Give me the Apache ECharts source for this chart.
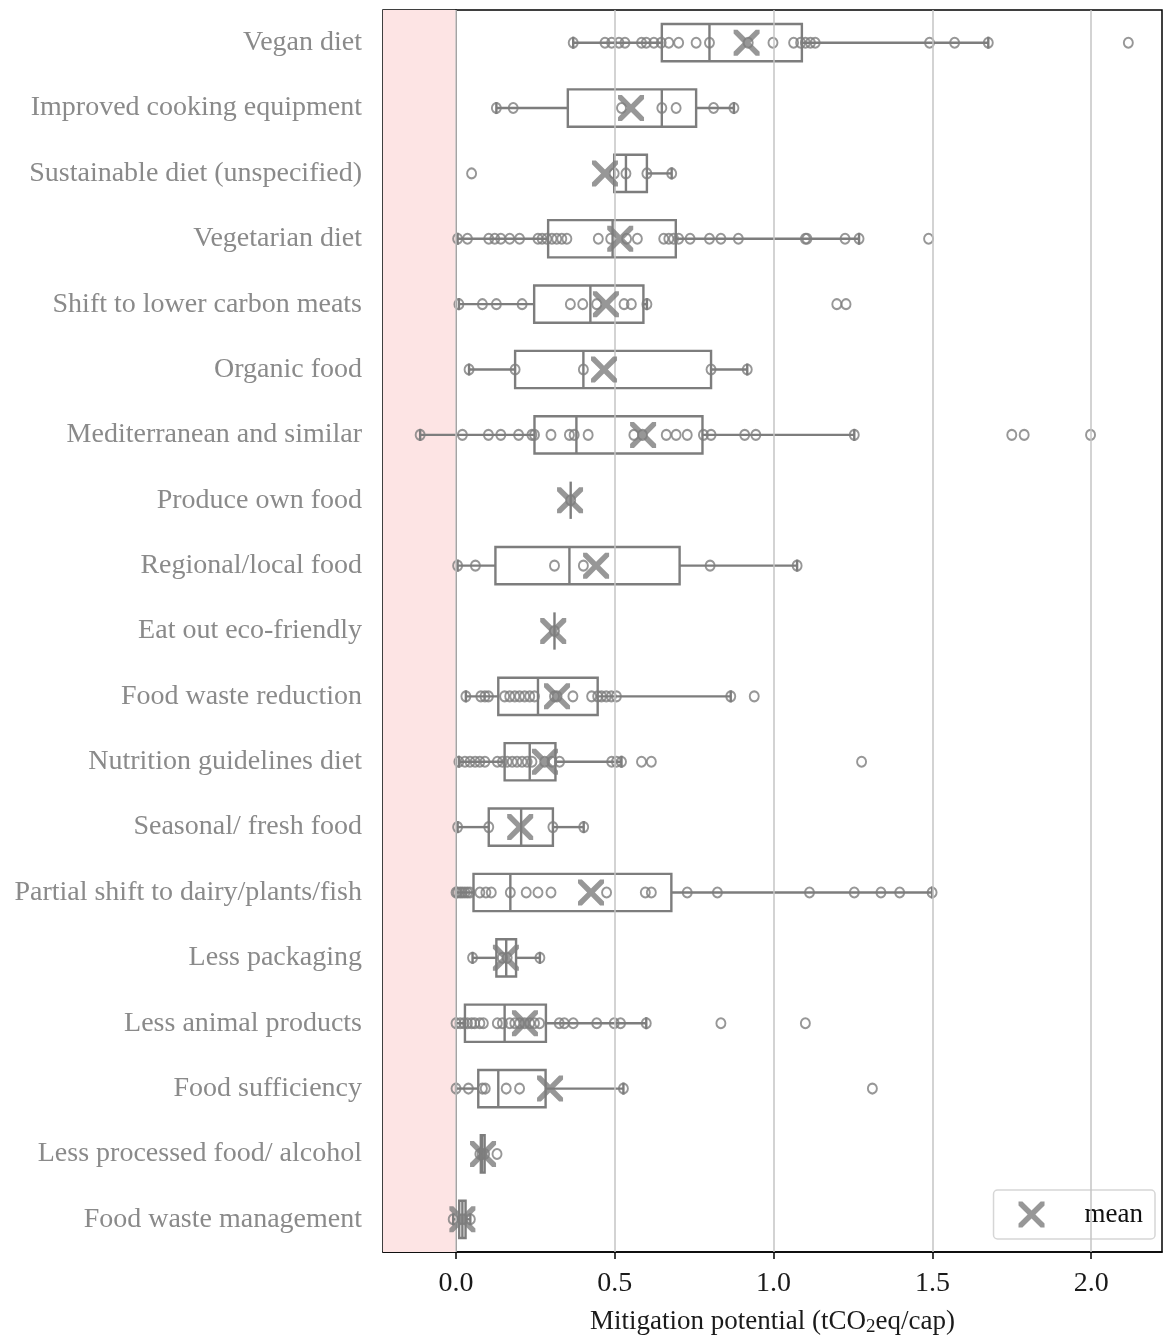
<!DOCTYPE html>
<html>
<head>
<meta charset="utf-8">
<title>Mitigation potential by food-related option</title>
<script src="https://cdn.jsdelivr.net/npm/echarts@6/dist/echarts.min.js"></script>
<style>
  html, body { margin: 0; padding: 0; background: #fff; }
  #chart { width: 1164px; height: 1336px; }
</style>
</head>
<body>
<div id="chart"></div>
<script>
// Options, top to bottom
const categories = [
  'Vegan diet',
  'Improved cooking equipment',
  'Sustainable diet (unspecified)',
  'Vegetarian diet',
  'Shift to lower carbon meats',
  'Organic food',
  'Mediterranean and similar',
  'Produce own food',
  'Regional/local food',
  'Eat out eco-friendly',
  'Food waste reduction',
  'Nutrition guidelines diet',
  'Seasonal/ fresh food',
  'Partial shift to dairy/plants/fish',
  'Less packaging',
  'Less animal products',
  'Food sufficiency',
  'Less processed food/ alcohol',
  'Food waste management'
];

// Box-plot statistics (tCO2eq/cap)
const whiskerLow  = [0.369, 0.127, 0.498, 0.005, 0.009, 0.041, -0.113, 0.361, 0.005, 0.310, 0.031, 0.009, 0.005, 0.000, 0.052, 0.000, 0.000, 0.075, -0.009];
const quartile1   = [0.648, 0.352, 0.498, 0.290, 0.246, 0.186, 0.247, 0.361, 0.124, 0.310, 0.133, 0.153, 0.103, 0.055, 0.127, 0.028, 0.070, 0.078, 0.010];
const medians     = [0.798, 0.648, 0.535, 0.493, 0.423, 0.401, 0.379, 0.361, 0.357, 0.310, 0.258, 0.232, 0.205, 0.171, 0.158, 0.153, 0.133, 0.082, 0.020];
const quartile3   = [1.089, 0.756, 0.601, 0.692, 0.590, 0.803, 0.776, 0.361, 0.704, 0.310, 0.446, 0.313, 0.305, 0.678, 0.189, 0.283, 0.282, 0.090, 0.030];
const whiskerHigh = [1.676, 0.875, 0.679, 1.269, 0.601, 0.917, 1.254, 0.361, 1.074, 0.310, 0.865, 0.521, 0.402, 1.499, 0.264, 0.599, 0.527, 0.090, 0.045];
const means       = [0.915, 0.551, 0.469, 0.517, 0.472, 0.466, 0.589, 0.359, 0.441, 0.306, 0.318, 0.280, 0.202, 0.425, 0.157, 0.217, 0.296, 0.085, 0.020];

// Individual study values per option
const studyValues = [
  [0.369, 0.469, 0.490, 0.513, 0.532, 0.584, 0.599, 0.623, 0.646, 0.670, 0.701, 0.756, 0.798, 0.920, 0.998, 1.063, 1.085, 1.100, 1.116, 1.131, 1.491, 1.570, 1.676, 2.117],
  [0.127, 0.180, 0.521, 0.648, 0.693, 0.811, 0.875],
  [0.049, 0.498, 0.535, 0.601, 0.679],
  [0.005, 0.036, 0.103, 0.122, 0.141, 0.169, 0.200, 0.258, 0.271, 0.286, 0.302, 0.317, 0.333, 0.349, 0.448, 0.487, 0.537, 0.571, 0.654, 0.670, 0.685, 0.701, 0.737, 0.798, 0.834, 0.889, 1.100, 1.105, 1.225, 1.269, 1.488],
  [0.009, 0.083, 0.127, 0.208, 0.360, 0.399, 0.443, 0.529, 0.552, 0.601, 1.199, 1.228],
  [0.041, 0.186, 0.401, 0.803, 0.917],
  [-0.113, 0.020, 0.102, 0.141, 0.197, 0.239, 0.247, 0.299, 0.357, 0.372, 0.416, 0.560, 0.587, 0.662, 0.693, 0.728, 0.779, 0.803, 0.909, 0.944, 1.254, 1.750, 1.789, 1.998],
  [0.361],
  [0.005, 0.061, 0.310, 0.401, 0.800, 1.074],
  [0.310],
  [0.031, 0.078, 0.091, 0.102, 0.153, 0.169, 0.185, 0.200, 0.216, 0.232, 0.247, 0.310, 0.318, 0.368, 0.427, 0.446, 0.458, 0.473, 0.489, 0.505, 0.865, 0.939],
  [0.009, 0.028, 0.044, 0.060, 0.075, 0.091, 0.130, 0.146, 0.161, 0.177, 0.192, 0.208, 0.224, 0.239, 0.279, 0.302, 0.326, 0.490, 0.505, 0.521, 0.584, 0.615, 1.277],
  [0.005, 0.103, 0.305, 0.402],
  [0.000, 0.005, 0.013, 0.020, 0.028, 0.036, 0.044, 0.075, 0.094, 0.111, 0.171, 0.221, 0.258, 0.299, 0.474, 0.596, 0.615, 0.728, 0.823, 1.113, 1.254, 1.338, 1.397, 1.499],
  [0.052, 0.146, 0.161, 0.264],
  [0.000, 0.013, 0.025, 0.036, 0.049, 0.059, 0.075, 0.086, 0.130, 0.146, 0.169, 0.185, 0.200, 0.216, 0.232, 0.247, 0.263, 0.325, 0.341, 0.369, 0.443, 0.498, 0.518, 0.599, 0.834, 1.100],
  [0.000, 0.039, 0.083, 0.092, 0.158, 0.200, 0.527, 1.311],
  [0.075, 0.082, 0.090, 0.129],
  [-0.009, 0.020, 0.045]
];

// X axis
const xMin = -0.23;
const xMax = 2.223;
const xTicks = [0.0, 0.5, 1.0, 1.5, 2.0];

const GREY = '#7d7d7d';
const SERIF = '"Liberation Serif", "Times New Roman", serif';
const X_MARK = 'path://M0,0 L3,0 L10,7 L17,0 L20,0 L20,3 L13,10 L20,17 L20,20 L17,20 L10,13 L3,20 L0,20 L0,17 L7,10 L0,3 Z';

const boxData = categories.map((c, i) =>
  [i, whiskerLow[i], quartile1[i], medians[i], quartile3[i], whiskerHigh[i]]);

const pointData = [];
studyValues.forEach((vals, i) => vals.forEach(v => pointData.push([v, i])));

const meanData = means.map((m, i) => [m, i]);

// Box, median, whiskers and short whisker caps for one option
function renderBox(params, api) {
  const cat = api.value(0);
  const lo = api.value(1), q1 = api.value(2), md = api.value(3), q3 = api.value(4), hi = api.value(5);
  const band = api.size([0, 1])[1];
  const h = band * 0.57;
  const cap = 12;
  const y = api.coord([0, cat])[1];
  const px = v => api.coord([v, cat])[0];
  const style = { stroke: GREY, lineWidth: 2.4, fill: null };
  const line = (x1, y1, x2, y2) => ({ type: 'line', shape: { x1, y1, x2, y2 }, style });
  const children = [];
  if (q3 > q1) {
    children.push({ type: 'rect', shape: { x: px(q1), y: y - h / 2, width: px(q3) - px(q1), height: h }, style });
  }
  children.push(line(px(md), y - h / 2, px(md), y + h / 2));
  if (q1 > lo) {
    children.push(line(px(lo), y, px(q1), y));
    children.push(line(px(lo), y - cap / 2, px(lo), y + cap / 2));
  }
  if (hi > q3) {
    children.push(line(px(q3), y, px(hi), y));
    children.push(line(px(hi), y - cap / 2, px(hi), y + cap / 2));
  }
  return { type: 'group', children };
}

const chart = echarts.init(document.getElementById('chart'));
chart.setOption({
  backgroundColor: '#fff',
  animation: false,
  textStyle: { fontFamily: SERIF },
  grid: {
    left: 383, right: 2, top: 10, bottom: 84,
    outerBoundsMode: 'none',
    containLabel: false,
    show: true, borderColor: '#000', borderWidth: 1.5, backgroundColor: '#fff'
  },
  legend: {
    right: 9, top: 1190,
    data: [{ name: 'mean', icon: X_MARK }],
    itemWidth: 26, itemHeight: 26,
    padding: [11, 12, 11, 25],
    backgroundColor: '#fff',
    borderColor: '#d6d6d6', borderWidth: 1.5, borderRadius: 4,
    textStyle: { fontFamily: SERIF, fontSize: 27, color: '#111', padding: [0, 0, 0, 35] }
  },
  xAxis: {
    type: 'value',
    min: xMin, max: xMax,
    axisLine: { show: true, lineStyle: { color: '#000', width: 1.5 } },
    axisTick: { show: true, length: 7, customValues: xTicks, lineStyle: { color: '#000', width: 1.5 } },
    axisLabel: {
      customValues: xTicks, margin: 18,
      fontFamily: SERIF, fontSize: 28, color: '#1a1a1a',
      formatter: v => v.toFixed(1)
    },
    splitLine: { show: false },
    name: 'Mitigation potential (tCO{sub|2}eq/cap)',
    nameLocation: 'middle',
    nameGap: 54,
    nameTextStyle: {
      fontFamily: SERIF, fontSize: 27, color: '#1a1a1a',
      rich: {
        sub: { fontFamily: SERIF, fontSize: 19, color: '#1a1a1a', padding: [12, 0, 0, 0] }
      }
    }
  },
  yAxis: {
    type: 'category',
    data: categories,
    inverse: true,
    axisLine: { show: true, lineStyle: { color: '#000', width: 1.5 } },
    axisTick: { show: true, length: 7, alignWithLabel: true, lineStyle: { color: '#000', width: 1.5 } },
    axisLabel: { fontFamily: SERIF, fontSize: 28, color: '#8a8a8a', margin: 21 },
    splitLine: { show: false }
  },
  series: [
    {
      // shaded negative range and vertical grid lines
      type: 'scatter',
      name: 'background',
      data: [],
      z: 1,
      silent: true,
      markArea: {
        silent: true,
        itemStyle: { color: '#fde4e4' },
        data: [[{ xAxis: xMin }, { xAxis: 0 }]]
      },
      markLine: {
        silent: true,
        symbol: 'none',
        label: { show: false },
        lineStyle: { color: '#c4c4c4', width: 1.5, type: 'solid' },
        data: xTicks.map(t => ({ xAxis: t }))
      }
    },
    {
      type: 'custom',
      name: 'box',
      renderItem: renderBox,
      data: boxData,
      encode: { x: [1, 2, 3, 4, 5], y: 0 },
      z: 3,
      silent: true
    },
    {
      type: 'scatter',
      name: 'studies',
      data: pointData,
      symbol: 'circle',
      symbolSize: [9, 10],
      itemStyle: { color: 'rgba(255,255,255,0)', borderColor: GREY, borderWidth: 2 },
      z: 4,
      silent: true
    },
    {
      type: 'scatter',
      name: 'mean',
      data: meanData,
      symbol: X_MARK,
      symbolSize: 26,
      itemStyle: { color: GREY },
      z: 5,
      silent: true
    }
  ]
});
</script>
</body>
</html>
